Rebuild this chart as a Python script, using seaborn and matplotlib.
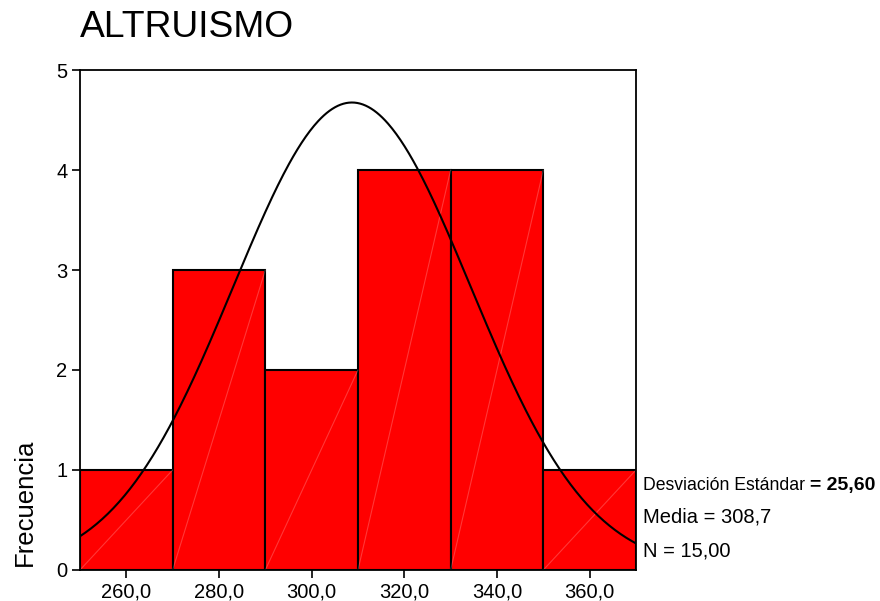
import numpy as np
import pandas as pd
import matplotlib
matplotlib.use("Agg")
import matplotlib.pyplot as plt
import seaborn as sns

# bins and frequencies
bin_edges = [250, 270, 290, 310, 330, 350, 370]
frequencies = [1, 3, 2, 4, 4, 1]
tick_values = [260, 280, 300, 320, 340, 360]
tick_labels = ["260,0", "280,0", "300,0", "320,0", "340,0", "360,0"]
y_ticks = [0, 1, 2, 3, 4, 5]

std_dev = 25.60
mean = 308.7
n = 15

sns.set_style("white")
plt.rcParams['font.family'] = ['Liberation Sans', 'DejaVu Sans']
plt.rcParams['text.color'] = 'black'
plt.rcParams['xtick.color'] = 'black'
plt.rcParams['ytick.color'] = 'black'
plt.rcParams['axes.labelcolor'] = 'black'

# expand the frequency table into observations at bin centres
centers = [(a + b) / 2 for a, b in zip(bin_edges[:-1], bin_edges[1:])]
df = pd.DataFrame({'valor': np.repeat(centers, frequencies)})

fig = plt.figure(figsize=(8.8, 6.01), dpi=100)
ax = fig.add_axes([0.0909, 0.0516, 0.6318, 0.8319])

sns.histplot(data=df, x='valor', bins=bin_edges, stat='count',
             color='#ff0000', alpha=1, edgecolor='black', linewidth=1.5, ax=ax)

# faint diagonal render artefacts inside each bar
for left, right, h in zip(bin_edges[:-1], bin_edges[1:], frequencies):
    ax.plot([left, right], [0, h], color='white', alpha=0.22, linewidth=0.8, zorder=2.5)

# normal curve scaled to counts
width = bin_edges[1] - bin_edges[0]
xs = np.linspace(bin_edges[0], bin_edges[-1], 400)
ys = n * width / (std_dev * np.sqrt(2 * np.pi)) * np.exp(-0.5 * ((xs - mean) / std_dev) ** 2)
sns.lineplot(x=xs, y=ys, color='black', linewidth=1.5, ax=ax, zorder=3)

ax.set_xlim(bin_edges[0], bin_edges[-1])
ax.set_ylim(0, 5)
ax.set_xticks(tick_values)
ax.set_xticklabels(tick_labels, fontsize=14.5)
ax.set_yticks(y_ticks)
ax.set_yticklabels([str(v) for v in y_ticks], fontsize=14.5)
ax.tick_params(axis='both', direction='out', length=6, width=1.2, color='black',
               bottom=True, left=True, pad=3)
for s in ax.spines.values():
    s.set_color('black')
    s.set_linewidth(1.3)

ax.set_xlabel('')
ax.set_ylabel('Frecuencia', fontsize=18.5)
ax.yaxis.set_label_coords(-0.078, 0.135)

fig.text(0.0909, 0.955, 'ALTRUISMO', fontsize=26.8, va='center', ha='left')

fig.text(0.731, 0.193, 'Desviación Estándar', fontsize=12.7, va='center')
fig.text(0.920, 0.193, '= 25,60', fontsize=14, va='center', weight='bold')
fig.text(0.731, 0.139, 'Media = 308,7', fontsize=14.5, va='center')
fig.text(0.731, 0.084, 'N = 15,00', fontsize=14.5, va='center')

fig.savefig('out.png', dpi=100, facecolor='white')
